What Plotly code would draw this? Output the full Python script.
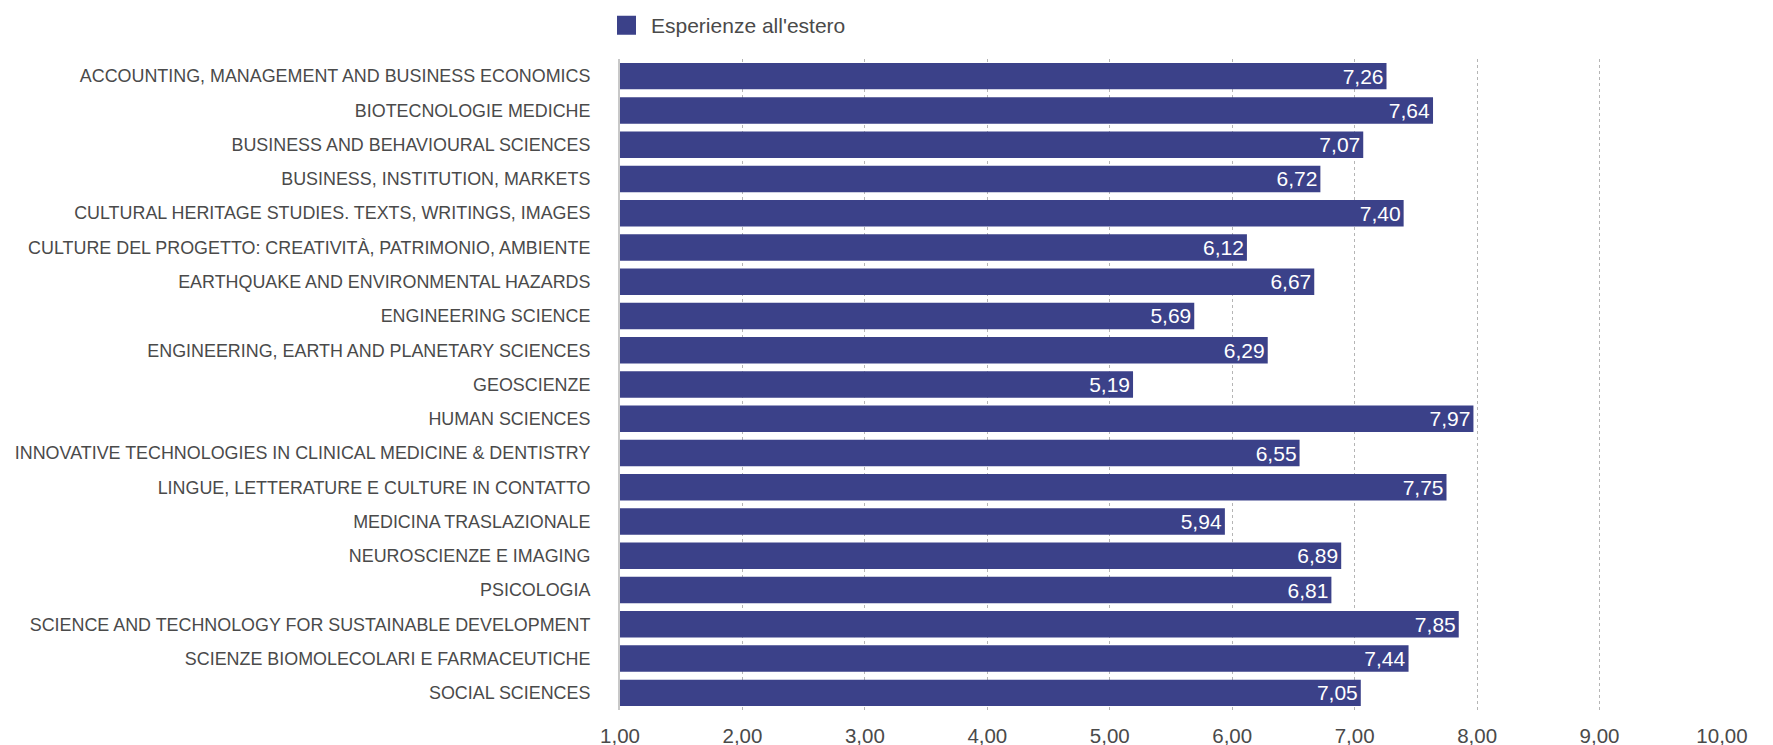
import plotly.graph_objects as go

categories = [
    "ACCOUNTING, MANAGEMENT AND BUSINESS ECONOMICS",
    "BIOTECNOLOGIE MEDICHE",
    "BUSINESS AND BEHAVIOURAL SCIENCES",
    "BUSINESS, INSTITUTION, MARKETS",
    "CULTURAL HERITAGE STUDIES. TEXTS, WRITINGS, IMAGES",
    "CULTURE DEL PROGETTO: CREATIVITÀ, PATRIMONIO, AMBIENTE",
    "EARTHQUAKE AND ENVIRONMENTAL HAZARDS",
    "ENGINEERING SCIENCE",
    "ENGINEERING, EARTH AND PLANETARY SCIENCES",
    "GEOSCIENZE",
    "HUMAN SCIENCES",
    "INNOVATIVE TECHNOLOGIES IN CLINICAL MEDICINE & DENTISTRY",
    "LINGUE, LETTERATURE E CULTURE IN CONTATTO",
    "MEDICINA TRASLAZIONALE",
    "NEUROSCIENZE E IMAGING",
    "PSICOLOGIA",
    "SCIENCE AND TECHNOLOGY FOR SUSTAINABLE DEVELOPMENT",
    "SCIENZE BIOMOLECOLARI E FARMACEUTICHE",
    "SOCIAL SCIENCES",
]
values = [7.26, 7.64, 7.07, 6.72, 7.40, 6.12, 6.67, 5.69, 6.29, 5.19,
          7.97, 6.55, 7.75, 5.94, 6.89, 6.81, 7.85, 7.44, 7.05]
series_name = "Esperienze all'estero"
tick_values = [1, 2, 3, 4, 5, 6, 7, 8, 9, 10]

BAR_COLOR = "#3b4189"
TEXT_COLOR = "#4a4a4a"
FONT = "Liberation Sans, Arial, sans-serif"

W, H = 1765, 737  # page body has an 8px default margin

fig = go.Figure()
fig.add_trace(go.Bar(
    x=values, y=categories, orientation="h",
    marker=dict(color=BAR_COLOR, line=dict(width=0)),
    texttemplate="%{x:.2f}", textposition="inside", insidetextanchor="end",
    textfont=dict(color="white", size=21, family=FONT),
    constraintext="none", showlegend=False, name=series_name,
))
# legend entry
fig.add_trace(go.Scatter(
    x=[None], y=[None], mode="markers", name=series_name,
    marker=dict(symbol="square", size=16, color=BAR_COLOR,
                line=dict(color=BAR_COLOR, width=3)),
    showlegend=True,
))

fig.update_layout(
    width=W, height=H,
    margin=dict(l=612, r=51, t=51, b=34.5, autoexpand=False),
    paper_bgcolor="white", plot_bgcolor="white",
    separators=",.",
    bargap=0.227,
    font=dict(family=FONT, color=TEXT_COLOR),
    showlegend=True,
    legend=dict(orientation="h", xref="container", yref="container",
                x=594 / W, xanchor="left", y=1 - 17.5 / H, yanchor="middle",
                itemwidth=39, font=dict(size=21, color=TEXT_COLOR, family=FONT),
                bgcolor="rgba(0,0,0,0)"),
    xaxis=dict(range=[1, 10], tickvals=tick_values, tickformat=".2f",
               showgrid=True, gridcolor="#b5b5b5", gridwidth=1, griddash="3px,3px",
               zeroline=False, showline=False, ticks="", automargin=False,
               ticklabelstandoff=11,
               tickfont=dict(size=20.5, color=TEXT_COLOR, family=FONT)),
    yaxis=dict(autorange="reversed", showgrid=False, zeroline=False,
               showline=True, linecolor="#c8c8c8", linewidth=2,
               ticks="", ticklabelstandoff=24, automargin=False,
               tickfont=dict(size=17.9, color=TEXT_COLOR, family=FONT)),
)

fig.write_html("out.html")
